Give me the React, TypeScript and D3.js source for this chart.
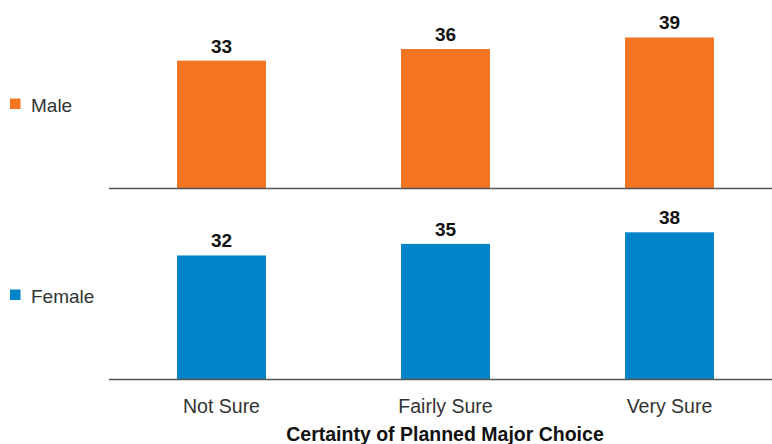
import { useEffect, useRef } from "react";
import * as d3 from "d3";

// Chart data
const categories = ["Not Sure", "Fairly Sure", "Very Sure"];
const seriesNames = ["Male", "Female"];
const maleValues = [33, 36, 39];
const femaleValues = [32, 35, 38];
const seriesColors = ["#F37421", "#0084C8"];
const axisTitle = "Certainty of Planned Major Choice";

const WIDTH = 772;
const HEIGHT = 444;

export default function App() {
  const svgRef = useRef<SVGSVGElement>(null);

  useEffect(() => {
    if (!svgRef.current) return;
    const svg = d3.select(svgRef.current);
    svg.selectAll("*").remove();

    const font = "'Liberation Sans', Arial, Helvetica, sans-serif";
    const axisLeft = 109;
    const panelBaselines = [188, 379];
    const panelHeight = 193;

    const x = d3
      .scaleBand<string>()
      .domain(categories)
      .range([109.5, 781.5])
      .paddingInner(0.603)
      .paddingOuter(0.3015);

    const panels = [maleValues, femaleValues];

    panels.forEach((values, i) => {
      const base = panelBaselines[i];
      const y = d3
        .scaleLinear()
        .domain([0, 50])
        .range([base, base - panelHeight]);

      const g = svg.append("g");

      // bars
      g.selectAll("rect")
        .data(values)
        .join("rect")
        .attr("x", (_, j) => x(categories[j])!)
        .attr("width", x.bandwidth())
        .attr("y", (d) => y(d))
        .attr("height", (d) => y(0) - y(d))
        .attr("fill", seriesColors[i]);

      // value labels
      g.selectAll("text.value")
        .data(values)
        .join("text")
        .attr("class", "value")
        .attr("x", (_, j) => x(categories[j])! + x.bandwidth() / 2)
        .attr("y", (d) => y(d) - 8)
        .attr("text-anchor", "middle")
        .attr("font-family", font)
        .attr("font-weight", "bold")
        .attr("font-size", 19)
        .attr("fill", "#111")
        .text((d) => d);

      // baseline
      g.append("line")
        .attr("x1", axisLeft)
        .attr("x2", WIDTH)
        .attr("y1", base + 0.5)
        .attr("y2", base + 0.5)
        .attr("stroke", "#555")
        .attr("stroke-width", 1.5);

      // legend
      const ly = base - 84.5;
      g.append("rect")
        .attr("x", 10)
        .attr("y", ly - 5)
        .attr("width", 10.5)
        .attr("height", 10.5)
        .attr("fill", seriesColors[i]);
      g.append("text")
        .attr("x", 31)
        .attr("y", ly + 8.5)
        .attr("font-family", font)
        .attr("font-size", 19)
        .attr("fill", "#333")
        .text(seriesNames[i]);
    });

    // category labels
    svg
      .append("g")
      .selectAll("text")
      .data(categories)
      .join("text")
      .attr("x", (d) => x(d)! + x.bandwidth() / 2)
      .attr("y", 412.5)
      .attr("text-anchor", "middle")
      .attr("font-family", font)
      .attr("font-size", 19.5)
      .attr("fill", "#333")
      .text((d) => d);

    // axis title
    svg
      .append("text")
      .attr("x", 445)
      .attr("y", 441)
      .attr("text-anchor", "middle")
      .attr("font-family", font)
      .attr("font-weight", "bold")
      .attr("font-size", 19.5)
      .attr("fill", "#111")
      .text(axisTitle);
  }, []);

  return (
    <svg
      ref={svgRef}
      width={WIDTH}
      height={HEIGHT}
      style={{ position: "absolute", left: 0, top: 0, background: "#fff" }}
    />
  );
}
